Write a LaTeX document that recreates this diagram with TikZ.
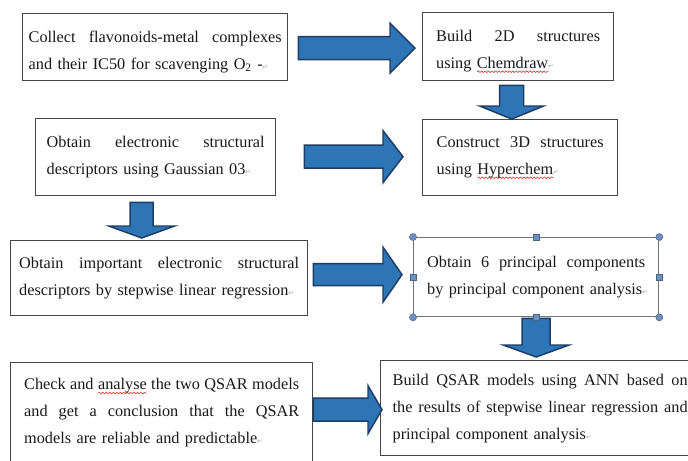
\documentclass[tikz,border=0pt]{standalone}
\usepackage{fontspec}
\setmainfont{Liberation Serif}
\newfontfamily\markfont{DejaVu Sans}
\usetikzlibrary{calc}
\usetikzlibrary{decorations.pathmorphing}

\definecolor{arrowblue}{RGB}{46,117,182}
\definecolor{arrowedge}{RGB}{31,60,100}
\definecolor{boxedge}{RGB}{70,70,70}
\definecolor{selectedge}{RGB}{115,115,115}
\definecolor{handleblue}{RGB}{110,145,195}
\definecolor{wavered}{RGB}{225,45,45}

% justified line, last line, paragraph mark, spelling wave
\newlength{\boxtw}
\newcommand{\jline}[1]{\leavevmode\hbox to\boxtw{\spaceskip=0.25em plus 1fil\relax #1}\\}
\newcommand{\lline}[1]{\mbox{#1}}
\newcommand{\pmark}{{\markfont\fontsize{5}{5}\selectfont\color{gray!70}↵}}
\newcommand{\topstrut}{\rule{0pt}{15.5pt}}
\newcommand{\spellerr}[1]{\setbox0\hbox{#1}\rlap{\tikz[baseline=0pt]\draw[wavered, line width=0.45pt,
  decorate, decoration={snake, amplitude=0.6pt, segment length=2.6pt}] (0pt,-2.6pt) -- (\the\wd0,-2.6pt);}#1}

% block arrows: start, tip, shaft half, head length, head half
\newcommand{\rarrow}[5]{%
  \draw[blockarrow] ($(#1)+(0,#3)$) -- ($(#2)+(-#4,#3)$) -- ($(#2)+(-#4,#5)$) -- (#2)
    -- ($(#2)+(-#4,-#5)$) -- ($(#2)+(-#4,-#3)$) -- ($(#1)+(0,-#3)$) -- cycle;}
\newcommand{\darrow}[5]{%
  \draw[blockarrow] ($(#1)+(#3,0)$) -- ($(#2)+(#3,-#4)$) -- ($(#2)+(#5,-#4)$) -- (#2)
    -- ($(#2)+(-#5,-#4)$) -- ($(#2)+(-#3,-#4)$) -- ($(#1)+(-#3,0)$) -- cycle;}

\begin{document}
\begin{tikzpicture}[x=0.75pt, y=-0.75pt,
  tw/.code={\setlength{\boxtw}{#1}\tikzset{text width=#1}},
  stepbox/.style={draw=boxedge, line width=1pt, fill=white, anchor=north west,
    inner sep=2pt, align=left, text=black!90,
    font=\fontsize{12.2}{20.25}\selectfont},
  blockarrow/.style={fill=arrowblue, draw=arrowedge, line width=1.1pt, line join=miter},
  handle/.style={fill=handleblue, draw=handleblue!70!black, line width=0.4pt}]
  \fill[white] (0,0) rectangle (688,460);
  \useasboundingbox (0,0) rectangle (688,460);
  % boxes
  \node[stepbox, minimum width=198.75pt, minimum height=50.25pt, tw=189.75pt]
    (collect) at (22,13) {\jline{\topstrut Collect flavonoids-metal complexes}
    \lline{and their IC50 for scavenging O\textsubscript{2} -\pmark}};
  \node[stepbox, minimum width=143.25pt, minimum height=51pt, tw=123pt]
    (build2d) at (422,12) {\jline{\topstrut Build 2D structures}
    \lline{using \spellerr{Chemdraw}\pmark}};
  \node[stepbox, minimum width=180pt, minimum height=57.75pt, tw=163.5pt]
    (gauss) at (35,118) {\jline{Obtain electronic structural}
    \lline{descriptors using Gaussian 03\pmark}};
  \node[stepbox, minimum width=146.25pt, minimum height=57pt, tw=125.25pt]
    (build3d) at (422,119) {\jline{Construct 3D structures}
    \lline{using \spellerr{Hyperchem}\pmark}};
  \node[stepbox, minimum width=222.75pt, minimum height=56.25pt, tw=210pt]
    (slr) at (10,240) {\jline{Obtain important electronic structural}
    \lline{descriptors by stepwise linear regression\pmark}};
  \node[stepbox, draw=selectedge, minimum width=183.75pt, minimum height=59.25pt, tw=163.5pt]
    (pca) at (413,237) {\jline{Obtain 6 principal components}
    \lline{by principal component analysis\pmark}};
  \node[stepbox, minimum width=226.5pt, minimum height=75pt, tw=206.25pt]
    (check) at (10,362) {\jline{Check and \spellerr{analyse} the two QSAR models}
    \jline{and get a conclusion that the QSAR}
    \lline{models are reliable and predictable\pmark}};
  \node[stepbox, minimum width=239.25pt, minimum height=71.25pt, tw=221.25pt]
    (ann) at (380,360) {\jline{Build QSAR models using ANN based on}
    \jline{the results of stepwise linear regression and}
    \lline{principal component analysis\pmark}};
  % right arrows
  \path ($(collect.east)+(10,1)$) coordinate (a1s) ($(build2d.west |- a1s)+(-7,0)$) coordinate (a1t);
  \rarrow{a1s}{a1t}{11.5}{25}{25}
  \path ($(gauss.east)+(28,-0.5)$) coordinate (a2s) ($(build3d.west |- a2s)+(-19,0)$) coordinate (a2t);
  \rarrow{a2s}{a2t}{11.5}{20}{26}
  \path ($(slr.east)+(5,-3.5)$) coordinate (a3s) ($(pca.west |- a3s)+(-11,0)$) coordinate (a3t);
  \rarrow{a3s}{a3t}{11}{19}{27.5}
  \path ($(check.east)+(0,-3)$) coordinate (a4s) ($(ann.west |- a4s)+(2,0)$) coordinate (a4t);
  \rarrow{a4s}{a4t}{11.5}{14}{24}
  % down arrows
  \path ($(build2d.south)+(-6.5,4)$) coordinate (d1s) (d1s |- build3d.north) coordinate (d1t);
  \darrow{d1s}{d1t}{12}{13}{32}
  \path ($(gauss.south)+(-14,6)$) coordinate (d2s) ($(d2s |- slr.north)+(0,-2)$) coordinate (d2t);
  \darrow{d2s}{d2t}{11.5}{12}{33}
  \path ($(pca.south)+(0,1)$) coordinate (d3s) ($(d3s |- ann.north)+(0,-3)$) coordinate (d3t);
  \darrow{d3s}{d3t}{14}{12}{33}
  % selection handles
  \foreach \a in {north west, north east, south west, south east}
    \filldraw[handle] (pca.\a) circle (3.5);
  \foreach \a in {north, south, west, east}
    \filldraw[handle] ($(pca.\a)+(-3,-3)$) rectangle +(6,6);
\end{tikzpicture}
\end{document}
